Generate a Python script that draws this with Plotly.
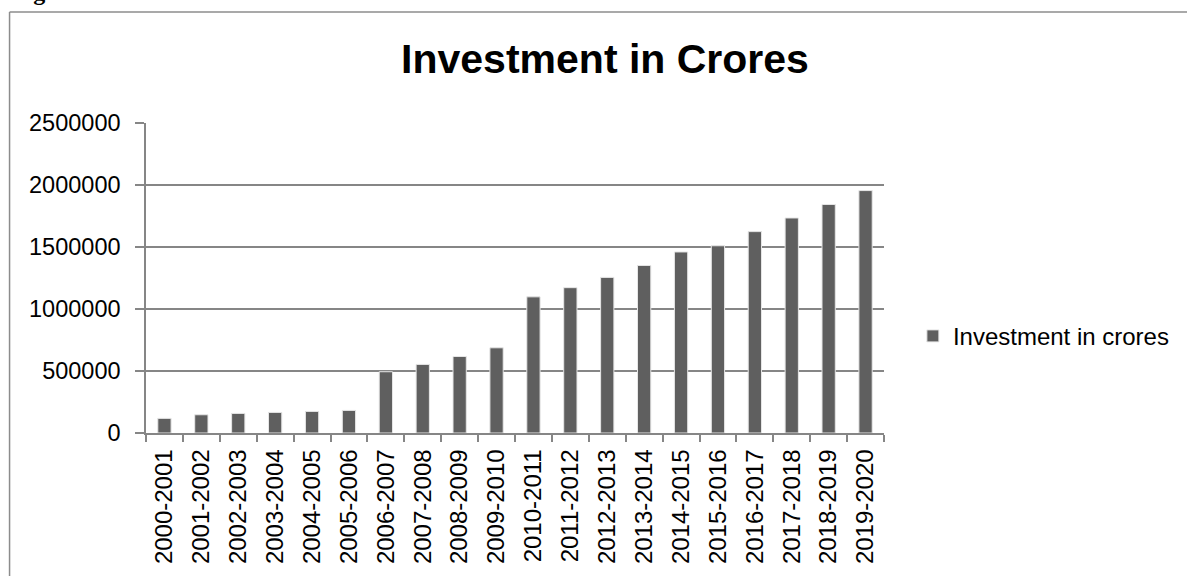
import plotly.graph_objects as go

years = ["2000-2001", "2001-2002", "2002-2003", "2003-2004", "2004-2005",
         "2005-2006", "2006-2007", "2007-2008", "2008-2009", "2009-2010",
         "2010-2011", "2011-2012", "2012-2013", "2013-2014", "2014-2015",
         "2015-2016", "2016-2017", "2017-2018", "2018-2019", "2019-2020"]
investment = [118000, 147000, 158000, 166000, 174000,
              182000, 494000, 553000, 617000, 687000,
              1098000, 1172000, 1255000, 1351000, 1460000,
              1510000, 1624000, 1734000, 1843000, 1955000]
y_ticks = [0, 500000, 1000000, 1500000, 2000000, 2500000]

W, H = 1187, 576
L, R, T, B = 146, 887, 123, 435.5

def px(x):
    return (x - L) / (R - L)

def py(y):
    return (B - y) / (B - T)

fig = go.Figure()
fig.add_trace(go.Bar(
    x=years, y=investment, name="Investment in crores",
    marker=dict(color="#5f5f5f", line=dict(color="#e6e6e6", width=1)),
))

fig.update_layout(
    width=W, height=H,
    margin=dict(l=L, r=W - R, t=T, b=H - B, pad=0),
    paper_bgcolor="white", plot_bgcolor="white",
    font=dict(family="Liberation Sans", size=23, color="black"),
    bargap=0.64,
    title=dict(text="<b>Investment in Crores</b>", x=605 / W, xref="container",
               xanchor="center", y=1 - 59 / H, yref="container", yanchor="middle",
               font=dict(family="Liberation Sans", size=41, color="black")),
    showlegend=True,
    legend=dict(x=px(916), xanchor="left", y=py(338), yanchor="middle",
                font=dict(size=24), bgcolor="rgba(0,0,0,0)"),
    xaxis=dict(type="category", tickson="boundaries", ticks="outside", ticklen=7,
               tickcolor="#868686", tickwidth=1.5, showline=True,
               linecolor="#868686", linewidth=1.5, showgrid=False,
               tickangle=-90, tickfont=dict(size=24), ticklabelstandoff=5),
    yaxis=dict(range=[0, 2500000], tickvals=y_ticks, ticktext=[str(v) for v in y_ticks],
               ticks="outside", ticklen=9, tickcolor="#868686", tickwidth=1.5,
               showline=True, linecolor="#868686", linewidth=1.5,
               showgrid=True, gridcolor="#868686", gridwidth=1.5,
               zeroline=False, tickfont=dict(size=23.5), ticklabelstandoff=10),
    shapes=[
        dict(type="line", xref="paper", yref="paper", x0=px(9), x1=px(1200),
             y0=py(11), y1=py(11), line=dict(color="#8c8c8c", width=1.5)),
        dict(type="line", xref="paper", yref="paper", x0=px(9), x1=px(9),
             y0=py(11), y1=py(600), line=dict(color="#8c8c8c", width=1.5)),
    ],
    annotations=[
        dict(text="<b>Fig</b>", xref="paper", yref="paper", x=px(9), y=py(6),
             xanchor="left", yanchor="bottom", showarrow=False,
             font=dict(family="Liberation Serif", size=24, color="black")),
    ],
)

fig.write_html("out.html")
